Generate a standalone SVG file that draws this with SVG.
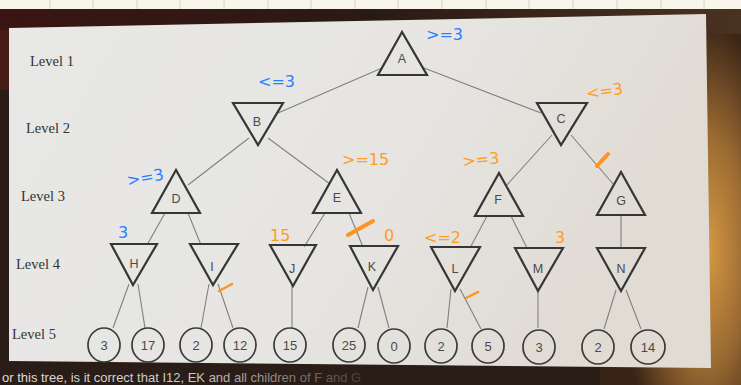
<svg xmlns="http://www.w3.org/2000/svg" width="741" height="385" viewBox="0 0 741 385">
<defs>
<linearGradient id="pg" x1="0" y1="0" x2="1" y2="0.3">
<stop offset="0" stop-color="#e8e8e6"/>
<stop offset="0.6" stop-color="#e6e5e2"/>
<stop offset="1" stop-color="#e0dbd3"/>
</linearGradient>
<radialGradient id="glow" cx="0.75" cy="0.65" r="0.6">
<stop offset="0" stop-color="#d89a45"/>
<stop offset="0.5" stop-color="#9a6a32"/>
<stop offset="1" stop-color="#3a2416"/>
</radialGradient>
<linearGradient id="topband" x1="0" y1="0" x2="1" y2="0">
<stop offset="0" stop-color="#3a1512"/>
<stop offset="0.5" stop-color="#2a1a15"/>
<stop offset="1" stop-color="#4a3220"/>
</linearGradient>
<linearGradient id="capfade" x1="0" y1="0" x2="1" y2="0">
<stop offset="0" stop-color="#e0e0e0"/>
<stop offset="0.55" stop-color="#c8c8c8"/>
<stop offset="1" stop-color="#4a4038"/>
</linearGradient>
<style>
.lvl{font-family:"Liberation Serif",serif;font-size:14.5px;fill:#333}
.nl{font-family:"Liberation Sans",sans-serif;font-size:12.5px;fill:#4a4a4a;text-anchor:middle}
.lf{font-family:"Liberation Sans",sans-serif;font-size:13px;fill:#4a4a4a;text-anchor:middle}
.tri{fill:none;stroke:#363636;stroke-width:2.2;stroke-linejoin:miter}
.leaf{fill:none;stroke:#3a3a3a;stroke-width:1.7}
.edge{stroke:#808080;stroke-width:1.1;fill:none}
.hb{font-family:"DejaVu Sans",sans-serif;font-size:16px;fill:#2a7fff}
.ho{font-family:"DejaVu Sans",sans-serif;font-size:16px;fill:#ff9b26}
.cut{stroke:#ff9320;stroke-linecap:round;fill:none}
</style>
</defs>
<!-- photo background -->
<rect x="0" y="0" width="741" height="385" fill="#2a1c16"/>
<rect x="600" y="0" width="141" height="385" fill="url(#glow)"/>
<rect x="0" y="9" width="741" height="25" fill="url(#topband)"/>
<rect x="0" y="30" width="10" height="60" fill="#5a1c18" opacity="0.6"/>
<!-- notebook strip on top -->
<rect x="0" y="0" width="741" height="9" fill="#f8f5ea"/>
<g stroke="#d8d4c8" stroke-width="1">
<line x1="50" y1="0" x2="50" y2="9"/><line x1="93" y1="0" x2="93" y2="9"/><line x1="137" y1="0" x2="137" y2="9"/><line x1="180" y1="0" x2="180" y2="9"/><line x1="224" y1="0" x2="224" y2="9"/><line x1="268" y1="0" x2="268" y2="9"/><line x1="311" y1="0" x2="311" y2="9"/><line x1="355" y1="0" x2="355" y2="9"/><line x1="398" y1="0" x2="398" y2="9"/><line x1="442" y1="0" x2="442" y2="9"/><line x1="486" y1="0" x2="486" y2="9"/><line x1="529" y1="0" x2="529" y2="9"/><line x1="573" y1="0" x2="573" y2="9"/><line x1="617" y1="0" x2="617" y2="9"/><line x1="661" y1="0" x2="661" y2="9"/><line x1="704" y1="0" x2="704" y2="9"/>
</g>
<!-- page -->
<polygon points="9,28 706,14 711,368 9,361" fill="url(#pg)"/>
<!-- bottom caption -->
<text x="2" y="382" font-family="Liberation Sans, sans-serif" font-size="13" fill="url(#capfade)">or this tree, is it correct that I12, EK and all children of F and G</text>

<!-- level labels -->
<text class="lvl" x="30" y="66">Level 1</text>
<text class="lvl" x="26" y="133">Level 2</text>
<text class="lvl" x="21" y="201">Level 3</text>
<text class="lvl" x="16" y="269">Level 4</text>
<text class="lvl" x="12" y="339">Level 5</text>

<g id="connectors">
<line class="edge" x1="382" y1="68" x2="278" y2="113"/>
<line class="edge" x1="424" y1="68" x2="541" y2="113"/>
<line class="edge" x1="249" y1="138" x2="188" y2="185"/>
<line class="edge" x1="268" y1="138" x2="330" y2="184"/>
<line class="edge" x1="552" y1="135" x2="506" y2="186"/>
<line class="edge" x1="571" y1="135" x2="614" y2="185"/>
<line class="edge" x1="165" y1="213" x2="147" y2="245"/>
<line class="edge" x1="188" y1="213" x2="201" y2="245"/>
<line class="edge" x1="325" y1="213" x2="304" y2="247"/>
<line class="edge" x1="349" y1="213" x2="363" y2="247"/>
<line class="edge" x1="487" y1="216" x2="470" y2="248"/>
<line class="edge" x1="511" y1="216" x2="527" y2="248"/>
<line class="edge" x1="621" y1="215" x2="621" y2="248"/>
<line class="edge" x1="129" y1="284" x2="113" y2="328"/>
<line class="edge" x1="138" y1="284" x2="145" y2="328"/>
<line class="edge" x1="209" y1="284" x2="201" y2="328"/>
<line class="edge" x1="218" y1="284" x2="233" y2="328"/>
<line class="edge" x1="292" y1="285" x2="292" y2="328"/>
<line class="edge" x1="368" y1="287" x2="358" y2="328"/>
<line class="edge" x1="378" y1="287" x2="389" y2="328"/>
<line class="edge" x1="451" y1="289" x2="447" y2="328"/>
<line class="edge" x1="460" y1="289" x2="481" y2="329"/>
<line class="edge" x1="538" y1="290" x2="538" y2="328"/>
<line class="edge" x1="616" y1="290" x2="604" y2="329"/>
<line class="edge" x1="626" y1="290" x2="641" y2="329"/>
</g>

<g id="A"><polygon class="tri" points="402,32 378,75 427,75"/><text class="nl" x="402" y="63">A</text></g>
<g id="B"><polygon class="tri" points="233,103 283,103 258,145"/><text class="nl" x="257" y="126">B</text></g>
<g id="C"><polygon class="tri" points="537,103 587,103 561,145"/><text class="nl" x="561" y="123">C</text></g>
<g id="D"><polygon class="tri" points="176,170 152,213 200,213"/><text class="nl" x="176" y="203">D</text></g>
<g id="E"><polygon class="tri" points="337,170 313,213 361,213"/><text class="nl" x="337" y="202">E</text></g>
<g id="F"><polygon class="tri" points="499,173 475,216 523,216"/><text class="nl" x="498" y="204">F</text></g>
<g id="G"><polygon class="tri" points="621,172 597,215 645,215"/><text class="nl" x="621" y="205">G</text></g>
<g id="H"><polygon class="tri" points="111,244 157,244 133,285"/><text class="nl" x="134" y="268">H</text></g>
<g id="I"><polygon class="tri" points="190,244 238,244 213,285"/><text class="nl" x="212" y="271">I</text></g>
<g id="J"><polygon class="tri" points="270,245 316,245 293,286"/><text class="nl" x="292" y="273">J</text></g>
<g id="K"><polygon class="tri" points="350,246 398,246 373,290"/><text class="nl" x="372" y="271">K</text></g>
<g id="L"><polygon class="tri" points="431,247 480,247 455,291"/><text class="nl" x="455" y="273">L</text></g>
<g id="M"><polygon class="tri" points="515,248 563,248 538,291"/><text class="nl" x="538" y="273">M</text></g>
<g id="N"><polygon class="tri" points="597,248 645,248 621,291"/><text class="nl" x="621" y="273">N</text></g>

<g id="leaf-H1"><ellipse class="leaf" cx="104" cy="345" rx="16" ry="17"/><text class="lf" x="104" y="350">3</text></g>
<g id="leaf-H2"><ellipse class="leaf" cx="148" cy="345" rx="16" ry="17"/><text class="lf" x="148" y="350">17</text></g>
<g id="leaf-I1"><ellipse class="leaf" cx="196" cy="345" rx="16" ry="17"/><text class="lf" x="196" y="350">2</text></g>
<g id="leaf-I2"><ellipse class="leaf" cx="240" cy="345" rx="16" ry="17"/><text class="lf" x="240" y="350">12</text></g>
<g id="leaf-J1"><ellipse class="leaf" cx="290" cy="345" rx="16" ry="17"/><text class="lf" x="290" y="350">15</text></g>
<g id="leaf-K1"><ellipse class="leaf" cx="349" cy="345" rx="16" ry="17"/><text class="lf" x="349" y="350">25</text></g>
<g id="leaf-K2"><ellipse class="leaf" cx="394" cy="346" rx="16" ry="17"/><text class="lf" x="394" y="351">0</text></g>
<g id="leaf-L1"><ellipse class="leaf" cx="441" cy="346" rx="16" ry="17"/><text class="lf" x="441" y="351">2</text></g>
<g id="leaf-L2"><ellipse class="leaf" cx="488" cy="346" rx="16" ry="17"/><text class="lf" x="488" y="351">5</text></g>
<g id="leaf-M1"><ellipse class="leaf" cx="539" cy="347" rx="16" ry="17"/><text class="lf" x="539" y="352">3</text></g>
<g id="leaf-N1"><ellipse class="leaf" cx="598" cy="347" rx="16" ry="17"/><text class="lf" x="598" y="352">2</text></g>
<g id="leaf-N2"><ellipse class="leaf" cx="648" cy="347" rx="17" ry="17"/><text class="lf" x="648" y="352">14</text></g>

<!-- handwritten annotations -->
<g id="notes">
<text class="hb" x="426" y="40">&gt;=3</text>
<text class="hb" x="258" y="87">&lt;=3</text>
<text class="hb" x="128" y="186" transform="rotate(-10 128 186)">&gt;=3</text>
<text class="hb" x="118" y="238" font-size="15">3</text>
<text class="ho" x="587" y="99" transform="rotate(-8 587 99)">&lt;=3</text>
<text class="ho" x="342" y="165">&gt;=15</text>
<text class="ho" x="463" y="167" transform="rotate(-6 463 167)">&gt;=3</text>
<text class="ho" x="270" y="241">15</text>
<text class="ho" x="384" y="241">0</text>
<text class="ho" x="424" y="243">&lt;=2</text>
<text class="ho" x="555" y="243" font-size="15">3</text>
<path class="cut" d="M597,166 L608,154" stroke-width="4"/>
<path class="cut" d="M348,235 L373,221" stroke-width="4"/>
<path class="cut" d="M219,291 L232,284" stroke-width="2.5"/>
<path class="cut" d="M466,298 L478,292" stroke-width="2.5"/>
</g>
</svg>
